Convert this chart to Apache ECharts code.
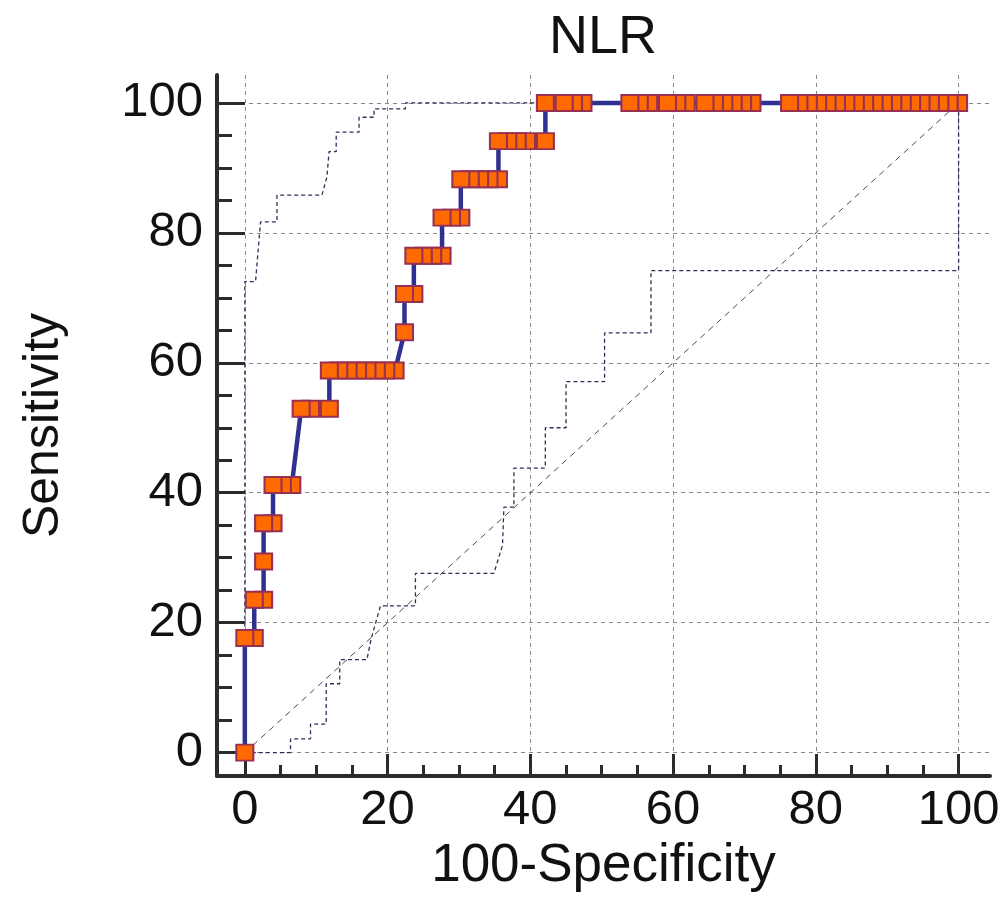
<!DOCTYPE html>
<html>
<head>
<meta charset="utf-8">
<title>NLR</title>
<script src="https://cdn.jsdelivr.net/npm/echarts@6/dist/echarts.min.js"></script>
<style>
  html, body { margin: 0; padding: 0; background: #fff; }
  #chart { width: 1006px; height: 917px; }
</style>
</head>
<body>
<div id="chart"></div>
<script>
// ROC curve points (100-Specificity, Sensitivity)
var fpr = [0, 0, 1.32, 1.32, 2.63, 2.63, 2.63, 3.95, 3.95, 5.26, 6.58,
  7.89, 9.21, 11.84, 11.84, 13.16, 14.47, 15.79, 17.11, 18.42, 19.74, 21.05,
  22.37, 22.37, 23.68, 23.68, 25.00, 26.32, 27.63, 27.63, 28.95, 30.26,
  30.26, 31.58, 32.89, 34.21, 35.53, 35.53, 36.84, 38.16, 39.47, 42.11,
  42.11, 44.74, 46.05, 47.37, 53.95, 55.26, 56.58, 59.21, 60.53, 61.84,
  64.47, 65.79, 67.11, 68.42, 69.74, 71.05, 76.32, 77.63, 78.95, 80.26,
  81.58, 82.89, 84.21, 85.53, 86.84, 88.16, 89.47, 90.79, 92.11, 93.42,
  94.74, 96.05, 97.37, 98.68, 100];
var sens = [0, 17.65, 17.65, 23.53, 23.53, 29.41, 35.29, 35.29, 41.18, 41.18, 41.18,
  52.94, 52.94, 52.94, 58.82, 58.82, 58.82, 58.82, 58.82, 58.82, 58.82, 58.82,
  64.71, 70.59, 70.59, 76.47, 76.47, 76.47, 76.47, 82.35, 82.35, 82.35,
  88.24, 88.24, 88.24, 88.24, 88.24, 94.12, 94.12, 94.12, 94.12, 94.12,
  100, 100, 100, 100, 100, 100, 100, 100, 100, 100,
  100, 100, 100, 100, 100, 100, 100, 100, 100, 100,
  100, 100, 100, 100, 100, 100, 100, 100, 100, 100,
  100, 100, 100, 100, 100];

// 95% confidence bounds (dashed)
var upperX = [0, 0, 1.5, 2.2, 4.5, 4.5, 10.8, 11.5, 11.8, 12.8, 12.8, 16.0, 16.0, 18.1, 18.1, 22.5, 22.5, 100];
var upperY = [0, 72.5, 72.5, 81.7, 81.7, 85.8, 85.8, 88.6, 92.5, 92.5, 95.5, 95.5, 97.8, 97.8, 99.1, 99.1, 100, 100];
var lowerX = [0, 6.4, 6.4, 9.2, 9.2, 11.4, 11.4, 13.3, 13.3, 17.1, 17.7, 19.0, 23.9, 23.9, 34.9, 36.1, 36.3,
  37.7, 37.7, 42.1, 42.1, 45.0, 45.0, 50.4, 50.4, 56.9, 56.9, 100, 100];
var lowerY = [0, 0, 2.1, 2.1, 4.4, 4.4, 10.6, 10.6, 14.3, 14.3, 17.5, 22.6, 22.6, 27.6, 27.6, 31.9, 37.8,
  37.8, 43.8, 43.8, 50.0, 50.0, 57.1, 57.1, 64.6, 64.6, 74.2, 74.2, 100];

// chance line
var diagX = [0, 100];
var diagY = [0, 100];

var tickValues = [0, 20, 40, 60, 80, 100];

function pairs(xs, ys) {
  return xs.map(function (x, i) { return [x, ys[i]]; });
}

var FONT = '"Liberation Sans", Arial, sans-serif';
var AXIS_COLOR = '#2b2b2b';
var chart = echarts.init(document.getElementById('chart'), null, { renderer: 'canvas' });

var option = {
  animation: false,
  backgroundColor: '#fff',
  title: {
    text: 'NLR',
    left: 598,
    textAlign: 'center',
    top: 6,
    textStyle: { fontFamily: FONT, fontSize: 54, fontWeight: 'normal', color: '#111' }
  },
  grid: { left: 217, right: 16, top: 75, bottom: 141, outerBoundsMode: 'none' },
  xAxis: {
    type: 'value',
    min: -3.9, max: 104.4,
    name: '100-Specificity',
    nameLocation: 'middle',
    nameGap: 62,
    nameTextStyle: { fontFamily: FONT, fontSize: 53, color: '#111' },
    axisLine: { show: true, onZero: false, lineStyle: { color: AXIS_COLOR, width: 4 } },
    axisTick: { show: true, inside: true, length: 22, customValues: tickValues,
      lineStyle: { color: AXIS_COLOR, width: 3 } },
    minorTick: { show: true, splitNumber: 4, length: 11, lineStyle: { color: AXIS_COLOR, width: 3 } },
    axisLabel: { customValues: tickValues, margin: 10, fontFamily: FONT, fontSize: 49, color: '#111' },
    splitLine: { show: true, lineStyle: { color: '#8a8a8a', width: 1, type: [4, 4] } }
  },
  yAxis: {
    type: 'value',
    min: -3.6, max: 104.3,
    name: 'Sensitivity',
    nameLocation: 'middle',
    nameGap: 148,
    nameTextStyle: { fontFamily: FONT, fontSize: 50, color: '#111' },
    axisLine: { show: true, onZero: false, lineStyle: { color: AXIS_COLOR, width: 4 } },
    axisTick: { show: true, inside: true, length: 28, customValues: tickValues,
      lineStyle: { color: AXIS_COLOR, width: 3 } },
    minorTick: { show: true, splitNumber: 4, length: 15, lineStyle: { color: AXIS_COLOR, width: 3 } },
    axisLabel: { customValues: tickValues, margin: 14, fontFamily: FONT, fontSize: 49, color: '#111' },
    splitLine: { show: true, lineStyle: { color: '#8a8a8a', width: 1, type: [4, 4] } }
  },
  series: [
    {
      type: 'line',
      data: pairs(diagX, diagY),
      symbol: 'none',
      silent: true,
      lineStyle: { color: '#4a4a4a', width: 1, type: [6, 5] },
      z: 1
    },
    {
      type: 'line',
      data: pairs(upperX, upperY),
      symbol: 'none',
      silent: true,
      lineStyle: { color: '#2f2f5a', width: 1.3, type: [4, 3] },
      z: 1
    },
    {
      type: 'line',
      data: pairs(lowerX, lowerY),
      symbol: 'none',
      silent: true,
      lineStyle: { color: '#2f2f5a', width: 1.3, type: [4, 3] },
      z: 1
    },
    {
      // drawn from top-right down to the origin so the left marker sits on top
      type: 'line',
      data: pairs(fpr, sens).reverse(),
      showAllSymbol: true,
      symbol: 'rect',
      symbolSize: [17, 16],
      lineStyle: { color: '#2e3192', width: 4.5 },
      itemStyle: { color: '#ff6a00', borderColor: '#973052', borderWidth: 2 },
      z: 3
    }
  ]
};

chart.setOption(option);
</script>
</body>
</html>
